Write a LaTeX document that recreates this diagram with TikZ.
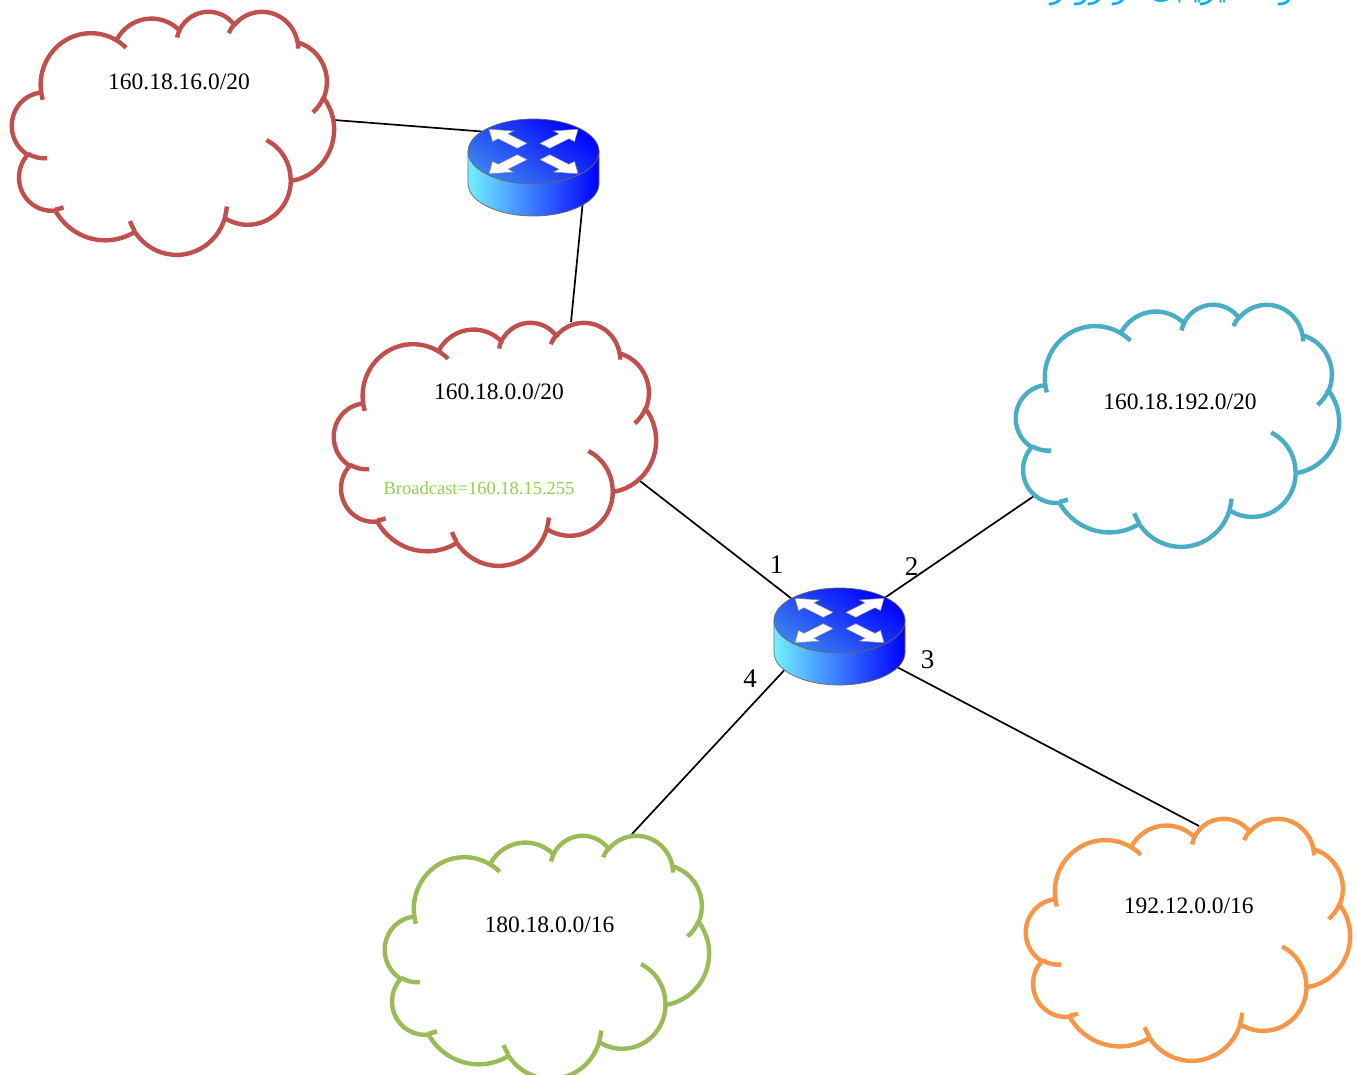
\documentclass[tikz,border=0pt]{standalone}
\usepackage{fontspec}
\setmainfont{Liberation Serif}
\newfontfamily\arabicfont[Script=Arabic]{DejaVu Sans}
\TeXXeTstate=1
\definecolor{cred}{RGB}{192,80,77}
\definecolor{ccyan}{RGB}{75,172,198}
\definecolor{cgreen}{RGB}{155,187,89}
\definecolor{corange}{RGB}{247,150,70}
\definecolor{cbcast}{RGB}{146,208,80}
\definecolor{ctitle}{RGB}{0,176,240}
\definecolor{rlight}{RGB}{115,240,255}
\definecolor{rtop}{RGB}{60,130,240}
\definecolor{rblue}{RGB}{0,0,255}
% OOXML arc (visual angles) -> parametric angles
\newcommand\ooprep[5]{%
  \pgfmathsetmacro\tmpS{atan2((#2)*sin(#4),(#3)*cos(#4))}%
  \pgfmathsetmacro\tmpE{atan2((#2)*sin(#4+#5),(#3)*cos(#4+#5))}%
  \pgfmathsetmacro\tmpE{\tmpE+360*and(#5>0,\tmpE<\tmpS)-360*and(#5<0,\tmpE>\tmpS)}%
  \expandafter\xdef\csname ooS#1\endcsname{\tmpS}%
  \expandafter\xdef\csname ooE#1\endcsname{\tmpE}}
\ooprep{a}{6.753}{9.190}{-190.4875}{123.7805}
\ooprep{b}{5.333}{7.267}{-144.1024}{89.9452}
\ooprep{c}{4.365}{5.945}{-145.8079}{99.7230}
\ooprep{d}{4.857}{6.595}{-130.9861}{117.2417}
\ooprep{e}{5.333}{7.273}{-78.7089}{109.0269}
\ooprep{f}{6.775}{9.220}{-46.2673}{130.2690}
\ooprep{g}{5.785}{7.867}{0.6250}{114.0333}
\ooprep{h}{6.752}{9.215}{22.4516}{115.1726}
\ooprep{i}{7.720}{10.543}{66.2426}{75.7110}
\ooprep{j}{4.360}{5.918}{-274.9421}{146.7356}
\ooprep{k}{4.345}{5.945}{-246.8285}{152.5189}
\ooprep{A}{4.345}{5.945}{86.7420}{26.4295}
\ooprep{B}{4.360}{5.918}{73.6105}{11.4475}
\ooprep{C}{6.752}{9.215}{137.6242}{14.0811}
\ooprep{D}{6.752}{9.215}{6.4533}{15.9984}
\ooprep{E}{5.785}{7.867}{-70.2924}{70.9174}
\ooprep{F}{5.333}{7.273}{30.3180}{27.7515}
\ooprep{G}{4.857}{6.595}{-13.7443}{14.8589}
\ooprep{H}{4.857}{6.595}{-149.1815}{18.1954}
\ooprep{I}{4.365}{5.945}{-163.4943}{17.6864}
\ooprep{J}{6.753}{9.190}{-66.7070}{12.3194}
\ooprep{K}{6.753}{9.190}{157.6544}{11.8582}
\newcommand\cloudshape[5]{%
  \begin{scope}[shift={(#1,#2)}, xscale=#3/43.2, yscale=#4/43.2]
    \draw[cloudline, draw=#5, fill=white] (3.9,14.37)
      arc[start angle=\ooSa, end angle=\ooEa, x radius=6.753, y radius=9.190]
      arc[start angle=\ooSb, end angle=\ooEb, x radius=5.333, y radius=7.267]
      arc[start angle=\ooSc, end angle=\ooEc, x radius=4.365, y radius=5.945]
      arc[start angle=\ooSd, end angle=\ooEd, x radius=4.857, y radius=6.595]
      arc[start angle=\ooSe, end angle=\ooEe, x radius=5.333, y radius=7.273]
      arc[start angle=\ooSf, end angle=\ooEf, x radius=6.775, y radius=9.220]
      arc[start angle=\ooSg, end angle=\ooEg, x radius=5.785, y radius=7.867]
      arc[start angle=\ooSh, end angle=\ooEh, x radius=6.752, y radius=9.215]
      arc[start angle=\ooSi, end angle=\ooEi, x radius=7.720, y radius=10.543]
      arc[start angle=\ooSj, end angle=\ooEj, x radius=4.360, y radius=5.918]
      arc[start angle=\ooSk, end angle=\ooEk, x radius=4.345, y radius=5.945]
      -- cycle;
    \draw[cloudline, draw=#5]
      (4.693,26.177) arc[start angle=\ooSA, end angle=\ooEA, x radius=4.345, y radius=5.945]
      (6.928,34.899) arc[start angle=\ooSB, end angle=\ooEB, x radius=4.360, y radius=5.918]
      (16.478,39.090) arc[start angle=\ooSC, end angle=\ooEC, x radius=6.752, y radius=9.215]
      (28.827,34.751) arc[start angle=\ooSD, end angle=\ooED, x radius=6.752, y radius=9.215]
      (34.129,22.954) arc[start angle=\ooSE, end angle=\ooEE, x radius=5.785, y radius=7.867]
      (41.798,15.354) arc[start angle=\ooSF, end angle=\ooEF, x radius=5.333, y radius=7.273]
      (38.324,5.426) arc[start angle=\ooSG, end angle=\ooEG, x radius=4.857, y radius=6.595]
      (29.078,3.952) arc[start angle=\ooSH, end angle=\ooEH, x radius=4.857, y radius=6.595]
      (22.141,4.720) arc[start angle=\ooSI, end angle=\ooEI, x radius=4.365, y radius=5.945]
      (14.000,5.192) arc[start angle=\ooSJ, end angle=\ooEJ, x radius=6.753, y radius=9.190]
      (4.127,15.789) arc[start angle=\ooSK, end angle=\ooEK, x radius=6.753, y radius=9.190];
  \end{scope}}
\newcommand\router[3]{%
  \node[inner sep=0pt, minimum width=131pt, minimum height=98pt] (#1) at (#2,#3+16) {};
  \shade[left color=rlight, right color=rblue, routeredge]
    (#2-65.5,#3) -- (#2-65.5,#3+32) arc[start angle=180, end angle=0, x radius=65.5, y radius=32.5]
    -- (#2+65.5,#3) -- cycle;
  \shade[top color=rblue, bottom color=rtop, shading angle=-35, routeredge]
    (#2,#3) ellipse[x radius=65.5, y radius=32.5];
  \foreach \a in {45,135,225,315} {
    \draw[routerarrow, shift={(#2,#3)}, yscale=0.5, rotate=\a]
      (16,-7) -- (43,-7) -- (43,-15) -- (63,0) -- (43,15) -- (43,7) -- (16,7) -- cycle;
  }}
\begin{document}
\begin{tikzpicture}[x=1pt, y=-1pt,
  cloudline/.style={line width=4.4pt, line join=round},
  routeredge/.style={draw=black!60, line width=0.7pt},
  routerarrow/.style={fill=white, draw=black!45, line width=0.5pt, line join=miter},
  link/.style={line width=1.7pt, draw=black},
  ip/.style={font=\fontsize{23.5}{28}\selectfont, anchor=base, inner sep=0pt},
  port/.style={font=\fontsize{27}{32}\selectfont, anchor=base, inner sep=0pt}]
\fill[white] (0,0) rectangle (1357,1075);
\useasboundingbox (0,0) rectangle (1357,1075);
% connector end points
\coordinate (c1r) at (334,120);
\coordinate (r1a) at (482,131.5);
\coordinate (r1b) at (584,190);
\coordinate (c2t) at (571,322);
\coordinate (c2r) at (640,481);
\coordinate (r2a) at (792,599);
\coordinate (r2b) at (883,599);
\coordinate (c3l) at (1034,496);
\coordinate (r2c) at (895,666);
\coordinate (c5t) at (1199,826);
\coordinate (r2d) at (790,664);
\coordinate (c4t) at (632,834);
\draw[link] (c1r) -- (r1a);
\draw[link] (r1b) -- (c2t);
\draw[link] (c2r) -- (r2a);
\draw[link] (r2b) -- (c3l);
\draw[link] (r2c) -- (c5t);
\draw[link] (r2d) -- (c4t);
% clouds
\cloudshape{12}{11}{322}{243}{cred}
\cloudshape{334}{322}{322}{243}{cred}
\cloudshape{1016}{304}{323}{242}{ccyan}
\cloudshape{385}{835}{324}{243}{cgreen}
\cloudshape{1026}{818}{324}{242}{corange}
% routers
\router{r1}{533.5}{151.5}
\router{r2}{839.5}{620.5}
% texts
\node[ip] (t1) at (179,90) {160.18.16.0/20};
\node[ip] (t2) at (499,399.5) {160.18.0.0/20};
\node[ip, font=\fontsize{18.5}{22}\selectfont, text=cbcast] (t2b) at (479,494) {Broadcast=160.18.15.255};
\node[ip] (t3) at (1180,409) {160.18.192.0/20};
\node[ip] (t4) at (549.5,932.5) {180.18.0.0/16};
\node[ip] (t5) at (1188.7,913) {192.12.0.0/16};
\node[port] (p1) at (776.7,573.5) {1};
\node[port] (p2) at (911.5,575) {2};
\node[port] (p3) at (927.5,668) {3};
\node[port] (p4) at (750,687) {4};
\node[anchor=base west, inner sep=0pt, text=ctitle, font=\arabicfont\fontsize{30}{34}\selectfont] (title) at (1025,-1) {\beginR آدرس‌دهی شبکه‌ها و مسیریابی در روترها\endR};
\end{tikzpicture}
\end{document}
